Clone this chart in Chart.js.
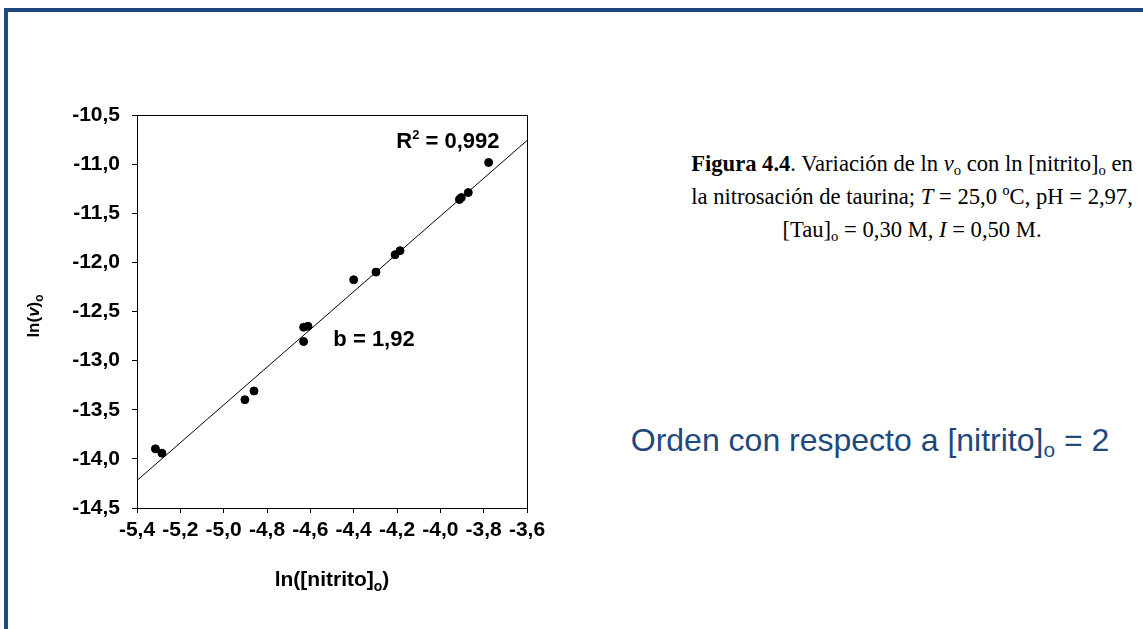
<!DOCTYPE html>
<html>
<head>
<meta charset="utf-8">
<script src="https://cdn.jsdelivr.net/npm/chart.js@4"></script>
<style>
  body { margin: 0; width: 1143px; height: 629px; background: #fff; overflow: hidden; position: relative; }
  #frame { position: absolute; left: 4px; top: 8px; right: 0; bottom: 0; border-top: 4px solid #1F497D; border-left: 4px solid #1F497D; }
  #chart { position: absolute; left: 0; top: 0; }
  #caption { position: absolute; left: 662px; top: 147px; width: 500px; font: 22.6px "Liberation Serif", serif; line-height: 33px; color: #000; text-align: center; }
  #caption div { white-space: nowrap; }
  #orden { position: absolute; left: 570px; top: 422px; width: 600px; text-align: center; font: 32px "Liberation Sans", Arial, sans-serif; color: #1F497D; }
  sub { font-size: 0.65em; vertical-align: -0.3em; line-height: 0; }
</style>
</head>
<body>
<div id="frame"></div>
<canvas id="chart" width="560" height="629"></canvas>
<div id="caption">
  <div><b>Figura 4.4</b>. Variación de ln <i>v</i><sub>o</sub> con ln [nitrito]<sub>o</sub> en</div>
  <div>la nitrosación de taurina; <i>T</i> = 25,0 ºC, pH = 2,97,</div>
  <div>[Tau]<sub>o</sub> = 0,30 M, <i>I</i> = 0,50 M.</div>
</div>
<div id="orden">Orden con respecto a [nitrito]<sub>o</sub> = 2</div>
<script>
'use strict';

// measured points: ln([nitrito]o) vs ln(v)o
const lnNitrito = [-5.315, -5.285, -4.902, -4.860, -4.631, -4.631, -4.611, -4.400, -4.297, -4.209, -4.186, -3.912, -3.903, -3.871, -3.777];
const lnV = [-13.898, -13.942, -13.398, -13.309, -12.806, -12.660, -12.650, -12.177, -12.099, -11.922, -11.881, -11.360, -11.340, -11.289, -10.983];

// fitted straight line (slope 1,92), ends at the axis limits
const fitX = [-5.4, -3.6];
const fitY = [-14.22, -10.76];

// axis ticks
const xTicks = [-5.4, -5.2, -5.0, -4.8, -4.6, -4.4, -4.2, -4.0, -3.8, -3.6];
const yTicks = [-14.5, -14.0, -13.5, -13.0, -12.5, -12.0, -11.5, -11.0, -10.5];

const FONT = '"Liberation Sans", Arial, sans-serif';

function fmt(v) {
  return v.toFixed(1).replace('.', ',');
}

// draw a text made of several pieces (different fonts / raised / lowered)
function drawParts(ctx, parts, x, y) {
  let total = 0;
  for (let p of parts) {
    ctx.font = p.font;
    total += ctx.measureText(p.t).width;
  }
  let cx = x - total / 2;
  for (let p of parts) {
    ctx.font = p.font;
    ctx.fillText(p.t, cx, y + (p.dy || 0));
    cx += ctx.measureText(p.t).width;
  }
}

const extras = {
  id: 'extras',
  afterDraw(chart) {
    const ctx = chart.ctx;
    const a = chart.chartArea;
    const xs = chart.scales.x;
    const ys = chart.scales.y;
    ctx.save();
    // top and right edges of the plot box
    ctx.strokeStyle = '#000';
    ctx.lineWidth = 1;
    ctx.beginPath();
    ctx.moveTo(a.left, a.top + 0.5);
    ctx.lineTo(a.right + 0.5, a.top + 0.5);
    ctx.lineTo(a.right + 0.5, a.bottom);
    ctx.stroke();

    ctx.fillStyle = '#000';
    ctx.textAlign = 'left';
    ctx.textBaseline = 'alphabetic';

    // R^2 and slope
    drawParts(ctx, [
      { t: 'R', font: 'bold 22px ' + FONT },
      { t: '2', font: 'bold 13px ' + FONT, dy: -9 },
      { t: ' = 0,992', font: 'bold 22px ' + FONT }
    ], xs.getPixelForValue(-3.965), ys.getPixelForValue(-10.837));
    drawParts(ctx, [
      { t: 'b = 1,92', font: 'bold 22px ' + FONT }
    ], xs.getPixelForValue(-4.306), ys.getPixelForValue(-12.847));

    // x title
    drawParts(ctx, [
      { t: 'ln([nitrito]', font: 'bold 21px ' + FONT },
      { t: 'o', font: 'bold 14px ' + FONT, dy: 5 },
      { t: ')', font: 'bold 21px ' + FONT }
    ], (a.left + a.right) / 2, 586);

    // y title, rotated
    ctx.translate(39, 316);
    ctx.rotate(-Math.PI / 2);
    drawParts(ctx, [
      { t: 'ln(', font: 'bold 17px ' + FONT },
      { t: 'v', font: 'italic bold 17px ' + FONT },
      { t: ')', font: 'bold 17px ' + FONT },
      { t: 'o', font: 'bold 12px ' + FONT, dy: 4 }
    ], 0, 0);
    ctx.restore();
  }
};

function setup() {
  const points = lnNitrito.map((x, i) => ({ x: x, y: lnV[i] }));
  const fitLine = fitX.map((x, i) => ({ x: x, y: fitY[i] }));
  const tickFont = { family: FONT, size: 21, weight: 'bold' };

  new Chart(document.getElementById('chart').getContext('2d'), {
    type: 'scatter',
    data: {
      datasets: [{
        type: 'line',
        data: fitLine,
        borderColor: '#000',
        borderWidth: 1,
        pointRadius: 0,
        fill: false,
        order: 2
      }, {
        data: points,
        backgroundColor: '#000',
        borderColor: '#000',
        pointRadius: 4,
        pointHoverRadius: 4,
        order: 1
      }]
    },
    options: {
      responsive: false,
      animation: false,
      layout: { padding: { left: 20, top: 115, right: 33, bottom: 31 } },
      plugins: { legend: { display: false }, tooltip: { enabled: false } },
      scales: {
        x: {
          type: 'linear',
          min: -5.4,
          max: -3.6,
          afterBuildTicks: s => { s.ticks = xTicks.map(v => ({ value: v })); },
          afterFit: s => { s.height = 90; },
          ticks: { callback: fmt, font: tickFont, color: '#000', padding: 5, maxRotation: 0, autoSkip: false },
          grid: { drawOnChartArea: false, tickLength: 5, color: '#000' },
          border: { color: '#000', width: 1 }
        },
        y: {
          min: -14.5,
          max: -10.5,
          afterBuildTicks: s => { s.ticks = yTicks.map(v => ({ value: v })); },
          afterFit: s => { s.width = 117; },
          ticks: { callback: fmt, font: tickFont, color: '#000', padding: 12, autoSkip: false },
          grid: { drawOnChartArea: false, tickLength: 5, color: '#000' },
          border: { color: '#000', width: 1 }
        }
      }
    },
    plugins: [extras]
  });
}

window.addEventListener('load', setup);
</script>
</body>
</html>
